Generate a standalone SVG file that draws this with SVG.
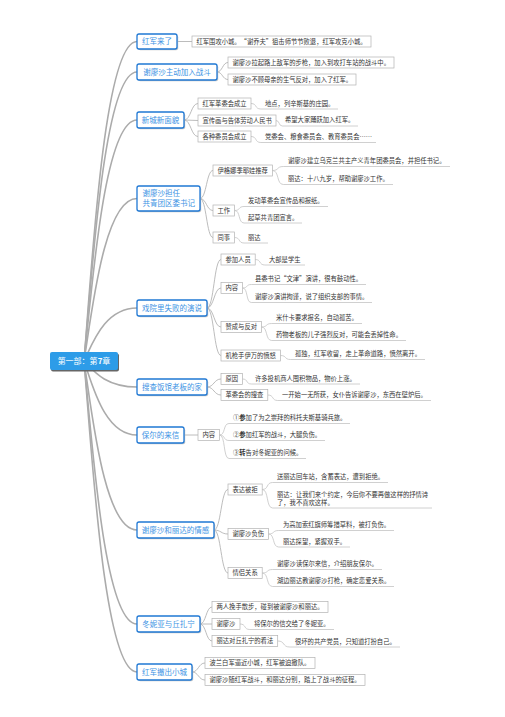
<svg xmlns="http://www.w3.org/2000/svg" width="505" height="717" viewBox="0 0 505 717">
<style>
text{font-family:"Noto Sans CJK SC","Noto Sans",sans-serif}
.rc{fill:none;stroke:#ababab;stroke-width:1.6}
.c{fill:none;stroke:#ababab;stroke-width:.8}
.u{fill:none;stroke:#c4c4c4;stroke-width:.8}
.sh{fill:#c8c8c8}
.l1 rect.f{fill:#fff;stroke:#1f78d4;stroke-width:1.3}
.l1 text{font-size:7.5px;fill:#3d93e4}
.b rect{fill:#fff;stroke:#b3b3b3;stroke-width:.7}
.t{font-size:6.3px;fill:#333}
.root text{font-size:8px;fill:#fff}
</style>
<rect width="505" height="717" fill="#fff"/>
<g id="connectors">
<path class="rc" d="M84 361C92 265 104 41.5 137 41.5"/>
<path class="rc" d="M84 361C92 274 104 72 137 72"/>
<path class="rc" d="M84 361C92 289 104 120 137 120"/>
<path class="rc" d="M84 361C92 312 104 198.5 137 198.5"/>
<path class="rc" d="M84 361C92 345 104 308 137 308"/>
<path class="rc" d="M84 361C92 369 104 387 137 387"/>
<path class="rc" d="M84 361C92 383 104 435 137 435"/>
<path class="rc" d="M84 361C92 412 104 530 137 530"/>
<path class="rc" d="M84 361C92 440 104 624 137 624"/>
<path class="rc" d="M84 361C92 454 104 672 137 672"/>
<path class="c" d="M177 41.5L192 41.5"/>
<path class="c" d="M217 72C222.5 72 222.5 62.5 228 62.5"/>
<path class="c" d="M217 72C222.5 72 222.5 79.5 228 79.5"/>
<path class="c" d="M184 120C191 120 191 103.5 198 103.5"/>
<path class="c" d="M184 120L198 120.5"/>
<path class="c" d="M184 120C191 120 191 136.5 198 136.5"/>
<path class="c" d="M200 198.5C206.5 198.5 206.5 170.5 213 170.5"/>
<path class="c" d="M200 198.5C206.5 198.5 206.5 210.5 213 210.5"/>
<path class="c" d="M200 198.5C206.5 198.5 206.5 237.5 213 237.5"/>
<path class="c" d="M207 308C214 308 214 259.5 221 259.5"/>
<path class="c" d="M207 308C214 308 214 288 221 288"/>
<path class="c" d="M207 308C214 308 214 327 221 327"/>
<path class="c" d="M207 308C214 308 214 355.5 221 355.5"/>
<path class="c" d="M207 387C214 387 214 379 221 379"/>
<path class="c" d="M207 387C214 387 214 395 221 395"/>
<path class="c" d="M184 435L198 435"/>
<path class="c" d="M214 530C221 530 221 489.5 228 489.5"/>
<path class="c" d="M214 530C221 530 221 534 228 534"/>
<path class="c" d="M214 530C221 530 221 573 228 573"/>
<path class="c" d="M200 624C206 624 206 607 212 607"/>
<path class="c" d="M200 624L212 624"/>
<path class="c" d="M200 624C206 624 206 641 212 641"/>
<path class="c" d="M192 672C198.5 672 198.5 663 205 663"/>
<path class="c" d="M192 672C198.5 672 198.5 680 205 680"/>
<path class="u" d="M251 103.5C257.3 103.5 254.5 109 260.8 109L338 109"/>
<path class="u" d="M276 120.5C280 120.5 278.3 126 282.3 126L358 126"/>
<path class="u" d="M251 136.5C257.3 136.5 254.5 142.5 260.8 142.5L376 142.5"/>
<path class="u" d="M272.4 170.5C279.4 170.5 276.3 166.5 283.3 166.5L450 166.5"/>
<path class="u" d="M272.4 170.5C279.4 170.5 276.3 184.5 283.3 184.5L393 184.5"/>
<path class="u" d="M234.6 210.5C240.6 210.5 238 206.5 244 206.5L328 206.5"/>
<path class="u" d="M234.6 210.5C240.6 210.5 238 223 244 223L302 223"/>
<path class="u" d="M234.6 237.5C240.6 237.5 238 243 244 243L268 243"/>
<path class="u" d="M255.2 259.5C261.4 259.5 258.7 265 264.9 265L305 265"/>
<path class="u" d="M242.6 288C248.2 288 245.7 284.5 251.3 284.5L366 284.5"/>
<path class="u" d="M242.6 288C248.2 288 245.7 302.5 251.3 302.5L372 302.5"/>
<path class="u" d="M261.5 327C268 327 265.1 323.5 271.7 323.5L362 323.5"/>
<path class="u" d="M261.5 327C268 327 265.1 340.5 271.7 340.5L406 340.5"/>
<path class="u" d="M280.4 355.5C287 355.5 284 359.5 290.6 359.5L425 359.5"/>
<path class="u" d="M242.6 379C248.2 379 245.7 384 251.3 384L360 384"/>
<path class="u" d="M267.8 395C274.2 395 271.4 400.5 277.7 400.5L431 400.5"/>
<path class="u" d="M219.6 435C225.6 435 223 423.5 229 423.5L350 423.5"/>
<path class="u" d="M219.6 435C225.6 435 223 440.5 229 440.5L325 440.5"/>
<path class="u" d="M219.6 435C225.6 435 223 458.5 229 458.5L306 458.5"/>
<path class="u" d="M262.2 489.5C268.9 489.5 265.9 482.5 272.6 482.5L388 482.5"/>
<path class="u" d="M262.2 489.5C268.9 489.5 265.9 508 272.6 508L432 508"/>
<path class="u" d="M268.5 534C275 534 272.1 530.5 278.7 530.5L394 530.5"/>
<path class="u" d="M268.5 534C275 534 272.1 547 278.7 547L350 547"/>
<path class="u" d="M262.2 573C268.9 573 265.9 569.5 272.6 569.5L382 569.5"/>
<path class="u" d="M262.2 573C268.9 573 265.9 586.5 272.6 586.5L394 586.5"/>
<path class="u" d="M240 624C246.3 624 243.5 629.5 249.8 629.5L334 629.5"/>
<path class="u" d="M277.7 641C285.5 641 282 647 289.8 647L400 647"/>
</g>

<g id="root" class="root">
<rect x="51" y="353.5" width="68" height="18" rx="2" fill="#666"/>
<rect x="50" y="352" width="68" height="18" rx="2" fill="#2d9ce8"/>
<text x="84" y="364" text-anchor="middle">第一部：第<tspan font-weight="bold">7</tspan>章</text>
</g>

<g id="n1" class="l1"><rect class="sh" x="138.2" y="35.2" width="40" height="15" rx="2"/><rect class="f" x="137" y="34" width="40" height="15" rx="2"/><text x="157" y="44.2" text-anchor="middle">红军来了</text></g>
<g id="n2" class="l1"><rect class="sh" x="138.2" y="65.2" width="80" height="16" rx="2"/><rect class="f" x="137" y="64" width="80" height="16" rx="2"/><text x="177" y="74.7" text-anchor="middle">谢廖沙主动加入战斗</text></g>
<g id="n3" class="l1"><rect class="sh" x="138.2" y="113.2" width="47" height="16" rx="2"/><rect class="f" x="137" y="112" width="47" height="16" rx="2"/><text x="160.5" y="122.7" text-anchor="middle">新城新面貌</text></g>
<g id="n4" class="l1"><rect class="sh" x="138.2" y="187.2" width="63" height="25" rx="2"/><rect class="f" x="137" y="186" width="63" height="25" rx="2"/><text x="142.5" y="195.5">谢廖沙担任</text><text x="142.5" y="205.8">共青团区委书记</text></g>
<g id="n5" class="l1"><rect class="sh" x="138.2" y="301.2" width="70" height="16" rx="2"/><rect class="f" x="137" y="300" width="70" height="16" rx="2"/><text x="172" y="310.7" text-anchor="middle">戏院里失败的演说</text></g>
<g id="n6" class="l1"><rect class="sh" x="138.2" y="380.2" width="70" height="16" rx="2"/><rect class="f" x="137" y="379" width="70" height="16" rx="2"/><text x="172" y="389.7" text-anchor="middle">搜查饭馆老板的家</text></g>
<g id="n7" class="l1"><rect class="sh" x="138.2" y="428.2" width="47" height="16" rx="2"/><rect class="f" x="137" y="427" width="47" height="16" rx="2"/><text x="160.5" y="437.7" text-anchor="middle">保尔的来信</text></g>
<g id="n8" class="l1"><rect class="sh" x="138.2" y="523.2" width="77" height="16" rx="2"/><rect class="f" x="137" y="522" width="77" height="16" rx="2"/><text x="175.5" y="532.7" text-anchor="middle">谢廖沙和丽达的情感</text></g>
<g id="n9" class="l1"><rect class="sh" x="138.2" y="617.2" width="63" height="16" rx="2"/><rect class="f" x="137" y="616" width="63" height="16" rx="2"/><text x="168.5" y="626.7" text-anchor="middle">冬妮亚与丘扎宁</text></g>
<g id="n10" class="l1"><rect class="sh" x="138.2" y="665.2" width="55" height="16" rx="2"/><rect class="f" x="137" y="664" width="55" height="16" rx="2"/><text x="164.5" y="674.7" text-anchor="middle">红军撤出小城</text></g>

<g id="n1-1" class="b"><rect x="192" y="36" width="179" height="11"/><text class="t" x="196.5" y="43.7">红军围攻小城。“谢乔夫”狙击师节节败退，红军攻克小城。</text></g>
<g id="n2-1" class="b"><rect x="228" y="57" width="166" height="11"/><text class="t" x="232.5" y="64.7">谢廖沙拉起路上敌军的步枪，加入到攻打车站的战斗中。</text></g>
<g id="n2-2" class="b"><rect x="228" y="74" width="128" height="11"/><text class="t" x="232.5" y="81.7">谢廖沙不顾母亲的生气反对，加入了红军。</text></g>

<g id="n3-1" class="b"><rect x="198" y="98" width="53" height="11"/><text class="t" x="202.5" y="105.7">红军革委会成立</text></g>
<g id="n3-1-1"><text class="t" x="265" y="105.7">地点，列辛斯基的庄园。</text></g>
<g id="n3-2" class="b"><rect x="198" y="115" width="78" height="11"/><text class="t" x="202.5" y="122.7">宣传画与告体劳动人民书</text></g>
<g id="n3-2-1"><text class="t" x="285" y="122.2">希望大家踊跃加入红军。</text></g>
<g id="n3-3" class="b"><rect x="198" y="131" width="53" height="11"/><text class="t" x="202.5" y="138.7">各种委员会成立</text></g>
<g id="n3-3-1"><text class="t" x="265" y="139.2">党委会、粮食委员会、教育委员会……</text></g>

<g id="n4-1" class="b"><rect x="213" y="165" width="59.4" height="11"/><text class="t" x="217.5" y="172.7">伊格娜季耶娃推荐</text></g>
<g id="n4-1-1"><text class="t" x="288" y="163.2">谢廖沙建立乌克兰共主产义青年团委员会，并担任书记。</text></g>
<g id="n4-1-2"><text class="t" x="288" y="181.2">丽达：十八九岁，帮助谢廖沙工作。</text></g>
<g id="n4-2" class="b"><rect x="213" y="205" width="21.6" height="11"/><text class="t" x="217.5" y="212.7">工作</text></g>
<g id="n4-2-1"><text class="t" x="248" y="203.2">发动革委会宣传品和报纸。</text></g>
<g id="n4-2-2"><text class="t" x="248" y="219.7">起草共青团宣言。</text></g>
<g id="n4-3" class="b"><rect x="213" y="232" width="21.6" height="11"/><text class="t" x="217.5" y="239.7">同事</text></g>
<g id="n4-3-1"><text class="t" x="248" y="239.7">丽达</text></g>

<g id="n5-1" class="b"><rect x="221" y="254" width="34.2" height="11"/><text class="t" x="225.5" y="261.7">参加人员</text></g>
<g id="n5-1-1"><text class="t" x="269" y="261.7">大部是学生</text></g>
<g id="n5-2" class="b"><rect x="221" y="282.5" width="21.6" height="11"/><text class="t" x="225.5" y="290.2">内容</text></g>
<g id="n5-2-1"><text class="t" x="255" y="281.2">县委书记“文津”演讲，很有鼓动性。</text></g>
<g id="n5-2-2"><text class="t" x="255" y="299.2">谢廖沙演讲拘谨，说了组织支部的事情。</text></g>
<g id="n5-3" class="b"><rect x="221" y="321.5" width="40.5" height="11"/><text class="t" x="225.5" y="329.2">赞成与反对</text></g>
<g id="n5-3-1"><text class="t" x="276" y="320.2">米什卡要求报名，自动孤苦。</text></g>
<g id="n5-3-2"><text class="t" x="276" y="337.2">药物老板的儿子强烈反对，可能会丢掉性命。</text></g>
<g id="n5-4" class="b"><rect x="221" y="350" width="59.4" height="11"/><text class="t" x="225.5" y="357.7">机枪手伊万的愤怒</text></g>
<g id="n5-4-1"><text class="t" x="295" y="356.2">孤独，红军收留，走上革命道路，愤然离开。</text></g>

<g id="n6-1" class="b"><rect x="221" y="373.5" width="21.6" height="11"/><text class="t" x="225.5" y="381.2">原因</text></g>
<g id="n6-1-1"><text class="t" x="255" y="380.7">许多投机商人囤积物品，物价上涨。</text></g>
<g id="n6-2" class="b"><rect x="221" y="389.5" width="46.8" height="11"/><text class="t" x="225.5" y="397.2">革委会的搜查</text></g>
<g id="n6-2-1"><text class="t" x="282" y="397.2">一开始一无所获，女仆告诉谢廖沙，东西在壁炉后。</text></g>

<g id="n7-1" class="b"><rect x="198" y="429.5" width="21.6" height="11"/><text class="t" x="202.5" y="437.2">内容</text></g>
<g id="n7-1-1"><text class="t" x="233" y="420.2">①<tspan font-weight="bold">参</tspan>加了为之崇拜的科托夫斯基骑兵旅。</text></g>
<g id="n7-1-2"><text class="t" x="233" y="437.2">②<tspan font-weight="bold">参</tspan>加红军的战斗，大腿负伤。</text></g>
<g id="n7-1-3"><text class="t" x="233" y="455.2">③<tspan font-weight="bold">转</tspan>告对冬妮亚的问候。</text></g>

<g id="n8-1" class="b"><rect x="228" y="484" width="34.2" height="11"/><text class="t" x="232.5" y="491.7">表达被拒</text></g>
<g id="n8-1-1"><text class="t" x="277" y="479.2">送丽达回车站，含蓄表达，遭到拒绝。</text></g>
<g id="n8-1-2"><text class="t" x="277" y="496.5">丽达：让我们来个约定，今后你不要再做这样的抒情诗</text><text class="t" x="277" y="504.7">了，我不喜欢这样。</text></g>
<g id="n8-2" class="b"><rect x="228" y="528.5" width="40.5" height="11"/><text class="t" x="232.5" y="536.2">谢廖沙负伤</text></g>
<g id="n8-2-1"><text class="t" x="283" y="527.2">为高加索红旗师筹措草料，被打负伤。</text></g>
<g id="n8-2-2"><text class="t" x="283" y="543.7">丽达探望，紧握双手。</text></g>
<g id="n8-3" class="b"><rect x="228" y="567.5" width="34.2" height="11"/><text class="t" x="232.5" y="575.2">情侣关系</text></g>
<g id="n8-3-1"><text class="t" x="277" y="566.2">谢廖沙读保尔来信，介绍朋友保尔。</text></g>
<g id="n8-3-2"><text class="t" x="277" y="583.2">湖边丽达教谢廖沙打枪，确定恋爱关系。</text></g>

<g id="n9-1" class="b"><rect x="212" y="601.5" width="116" height="11"/><text class="t" x="216.5" y="609.2">两人挽手散步，碰到被谢廖沙和丽达。</text></g>
<g id="n9-2" class="b"><rect x="212" y="618.5" width="28" height="11"/><text class="t" x="216.5" y="626.2">谢廖沙</text></g>
<g id="n9-2-1"><text class="t" x="254" y="626.2">将保尔的信交给了冬妮亚。</text></g>
<g id="n9-3" class="b"><rect x="212" y="635.5" width="65.7" height="11"/><text class="t" x="216.5" y="643.2">丽达对丘扎宁的看法</text></g>
<g id="n9-3-1"><text class="t" x="295" y="643.7">很坏的共产党员，只知道打扮自己。</text></g>

<g id="n10-1" class="b"><rect x="205" y="657.5" width="110" height="11"/><text class="t" x="209.5" y="665.2">波兰白军逼近小城，红军被迫撤队。</text></g>
<g id="n10-2" class="b"><rect x="205" y="674.5" width="160" height="11"/><text class="t" x="209.5" y="682.2">谢廖沙随红军战斗，和丽达分别，踏上了战斗的征程。</text></g>
</svg>
